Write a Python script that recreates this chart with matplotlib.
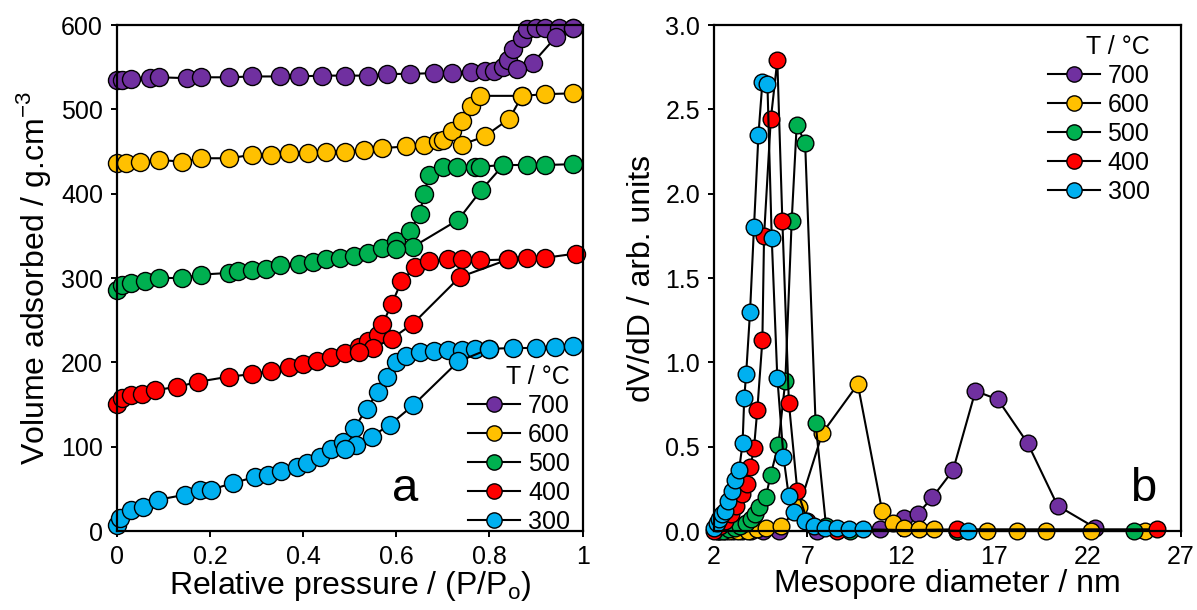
import matplotlib
matplotlib.use("Agg")
import matplotlib.pyplot as plt
from matplotlib.lines import Line2D

plt.rcParams['font.family'] = ['Liberation Sans', 'DejaVu Sans']

temps = ["700", "600", "500", "400", "300"]
colors = {"700": "#7030A0", "600": "#FFC000", "500": "#00B050",
          "400": "#FF0000", "300": "#00B0F0"}

# ---- panel a: N2 isotherms (adsorption / desorption) ----
p_ads = {
    "700": [0.0, 0.01, 0.03, 0.07, 0.09, 0.15, 0.18, 0.24, 0.29, 0.35, 0.39, 0.44, 0.49, 0.54, 0.58,
            0.63, 0.68, 0.72, 0.76, 0.79, 0.81, 0.83, 0.84, 0.85, 0.87, 0.88, 0.90, 0.92, 0.95, 0.98],
    "600": [0.0, 0.02, 0.05, 0.09, 0.14, 0.18, 0.24, 0.29, 0.33, 0.37, 0.41, 0.45, 0.49, 0.53, 0.57,
            0.62, 0.66, 0.69, 0.70, 0.72, 0.74, 0.76, 0.78, 0.87, 0.92, 0.98],
    "500": [0.0, 0.01, 0.03, 0.06, 0.09, 0.14, 0.18, 0.24, 0.26, 0.29, 0.32, 0.35, 0.39, 0.42, 0.45,
            0.48, 0.51, 0.54, 0.57, 0.60, 0.63, 0.65, 0.66, 0.67, 0.70, 0.73, 0.77, 0.78, 0.83, 0.88,
            0.92, 0.98],
    "400": [0.0, 0.01, 0.03, 0.053, 0.082, 0.13, 0.175, 0.24, 0.29, 0.33, 0.37, 0.40, 0.43, 0.46, 0.49,
            0.52, 0.54, 0.56, 0.57, 0.59, 0.611, 0.64, 0.67, 0.71, 0.74, 0.78, 0.84, 0.88, 0.92, 0.986],
    "300": [0.0, 0.006, 0.03, 0.056, 0.088, 0.146, 0.178, 0.202, 0.25, 0.296, 0.325, 0.353, 0.386, 0.408,
            0.436, 0.46, 0.486, 0.51, 0.536, 0.56, 0.58, 0.60, 0.62, 0.65, 0.68, 0.71, 0.74, 0.77,
            0.80, 0.85, 0.90, 0.94, 0.98],
}
v_ads = {
    "700": [535, 535, 536, 537, 538, 537, 538, 538, 539, 539, 539, 540, 540, 540, 542,
            542, 543, 543, 544, 545, 546, 550, 559, 571, 585, 595, 597, 597, 597, 597],
    "600": [436, 436, 438, 440, 438, 442, 442, 446, 446, 448, 448, 450, 450, 452, 454,
            456, 458, 462, 464, 474, 486, 504, 516, 516, 518, 519],
    "500": [286, 292, 294, 296, 300, 300, 304, 306, 308, 310, 311, 315, 317, 319, 322,
            324, 326, 330, 336, 344, 356, 376, 400, 422, 432, 432, 432, 432, 434, 434,
            434, 435],
    "400": [151, 158, 161, 163, 167, 171, 177, 183, 186, 190, 194, 198, 202, 206, 211,
            218, 225, 233, 245, 269, 296, 313, 320, 322, 322, 321, 322, 324, 324, 329],
    "300": [7, 15, 25, 29, 37, 43, 49, 49, 57, 64, 67, 71, 76, 81,
            88, 97, 106, 122, 145, 165, 183, 200, 208, 212, 214, 215, 215, 216,
            216, 217, 217, 218, 219],
}
p_des = {
    "700": [0.98, 0.943, 0.893, 0.86],
    "600": [0.87, 0.843, 0.79, 0.74],
    "500": [0.83, 0.782, 0.733, 0.636, 0.60],
    "400": [0.84, 0.736, 0.636, 0.59, 0.55, 0.52],
    "300": [0.80, 0.733, 0.636, 0.586, 0.547, 0.514, 0.49],
}
v_des = {
    "700": [597, 586, 555, 548],
    "600": [516, 489, 468, 458],
    "500": [434, 404, 369, 337, 334],
    "400": [322, 301, 246, 228, 217, 212],
    "300": [216, 201, 149, 126, 112, 102, 97],
}

# ---- panel b: pore size distributions ----
d_nm = {
    "700": [2.2, 2.6, 3.0, 3.5, 4.0, 4.6, 5.5, 7.5, 10.9, 12.2, 12.9, 13.7, 14.8, 16.0, 17.2,
            18.8, 20.4, 22.4],
    "600": [2.3, 2.8, 3.3, 3.8, 4.3, 4.8, 5.6, 6.55, 7.8, 9.7, 11.0, 11.6, 12.2, 13.0, 13.8,
            15.0, 16.6, 18.2, 19.8, 22.2, 25.1],
    "500": [2.2, 2.5, 2.8, 3.1, 3.4, 3.7, 4.0, 4.2, 4.4, 4.77, 5.03, 5.44, 5.82, 6.16, 6.43,
            6.88, 7.44, 8.0, 9.3, 15.0, 24.5],
    "400": [2.0, 2.3, 2.6, 2.9, 3.2, 3.5, 3.78, 3.95, 4.14, 4.32, 4.59, 4.68, 5.04, 5.39, 5.66,
            6.01, 6.46, 7.0, 8.6, 15.0, 25.7],
    "300": [2.0, 2.15, 2.29, 2.43, 2.57, 2.76, 2.95, 3.15, 3.34, 3.53, 3.62, 3.72, 3.93, 4.14,
            4.38, 4.59, 4.86, 5.09, 5.39, 5.72, 6.0, 6.29, 6.87, 7.34, 7.92, 8.58, 9.25, 10.0, 15.6],
}
dvdd = {
    "700": [0, 0, 0, 0, 0, 0, 0, 0, 0.01, 0.08, 0.10, 0.20, 0.36, 0.83, 0.78,
            0.52, 0.15, 0.02],
    "600": [0, 0, 0, 0, 0.01, 0.02, 0.03, 0.14, 0.58, 0.87, 0.12, 0.05, 0.02, 0.01, 0.01,
            0, 0, 0, 0, 0, 0],
    "500": [0, 0, 0.01, 0.02, 0.03, 0.05, 0.07, 0.10, 0.14, 0.20, 0.33, 0.51, 0.89, 1.84, 2.41,
            2.30, 0.64, 0.03, 0.0, 0.0, 0.0],
    "400": [0.0, 0.03, 0.06, 0.10, 0.15, 0.22, 0.28, 0.38, 0.49, 0.72, 1.13, 1.75, 2.44, 2.79, 1.84,
            0.76, 0.24, 0.06, 0.0, 0.01, 0.01],
    "300": [0.02, 0.05, 0.07, 0.10, 0.12, 0.18, 0.24, 0.30, 0.36, 0.52, 0.79, 0.93, 1.30, 1.80,
            2.35, 2.66, 2.65, 1.74, 0.91, 0.44, 0.21, 0.11, 0.06, 0.03, 0.02, 0.02, 0.01, 0.01, 0.0],
}

fig = plt.figure(figsize=(11.97, 6.10), dpi=100)
ax1 = fig.add_axes([0.0977, 0.1295, 0.389, 0.8295])
ax2 = fig.add_axes([0.5965, 0.1295, 0.390, 0.8295])

style = dict(color="black", lw=1.5, marker="o", mec="black", mew=1.0, clip_on=False)

for t in temps:
    ax1.plot(p_ads[t], v_ads[t], mfc=colors[t], ms=13, **style)
    ax1.plot(p_des[t], v_des[t], mfc=colors[t], ms=13, **style)
    ax2.plot(d_nm[t], dvdd[t], mfc=colors[t], ms=12, **style)

for ax in (ax1, ax2):
    for s in ax.spines.values():
        s.set_linewidth(1.6)
    ax.tick_params(direction="out", length=4, width=1.4, labelsize=18, pad=6)

ax1.set_xlim(0, 1)
ax1.set_ylim(0, 600)
ax1.set_xticks([0, 0.2, 0.4, 0.6, 0.8, 1.0])
ax1.set_xticklabels(["0", "0.2", "0.4", "0.6", "0.8", "1"])
ax1.set_yticks(range(0, 601, 100))
ax1.set_xlabel("Relative pressure / (P/P$_\\mathregular{o}$)", fontsize=23, labelpad=0)
ax1.set_ylabel("Volume adsorbed / g.cm$^\\mathregular{-3}$", fontsize=23, labelpad=6)
ax1.text(0.618, 0.06, "a", transform=ax1.transAxes, fontsize=34, ha="center", va="baseline")

ax2.set_xlim(2, 27)
ax2.set_ylim(0, 3.0)
ax2.set_xticks(range(2, 28, 5))
ax2.set_yticks([0, 0.5, 1.0, 1.5, 2.0, 2.5, 3.0])
ax2.set_yticklabels(["%.1f" % v for v in [0, 0.5, 1.0, 1.5, 2.0, 2.5, 3.0]])
ax2.set_xlabel("Mesopore diameter / nm", fontsize=23, labelpad=0)
ax2.set_ylabel("dV/dD / arb. units", fontsize=23, labelpad=6)
ax2.text(0.92, 0.06, "b", transform=ax2.transAxes, fontsize=34, ha="center", va="baseline")

handles = [Line2D([], [], color="black", lw=1.5, marker="o", mfc=colors[t], mec="black",
                  mew=1.0, ms=11) for t in temps]
leg_kw = dict(title="T / °C", fontsize=18, title_fontsize=18, frameon=False,
              handlelength=2.1, handletextpad=0.3, labelspacing=0.2, borderpad=0.1,
              alignment="right")
ax1.legend(handles, temps, loc="lower right", bbox_to_anchor=(1.005, -0.035), **leg_kw)
ax2.legend(handles, temps, loc="upper right", bbox_to_anchor=(0.965, 1.01), **leg_kw)

fig.savefig("out.png", dpi=100)
